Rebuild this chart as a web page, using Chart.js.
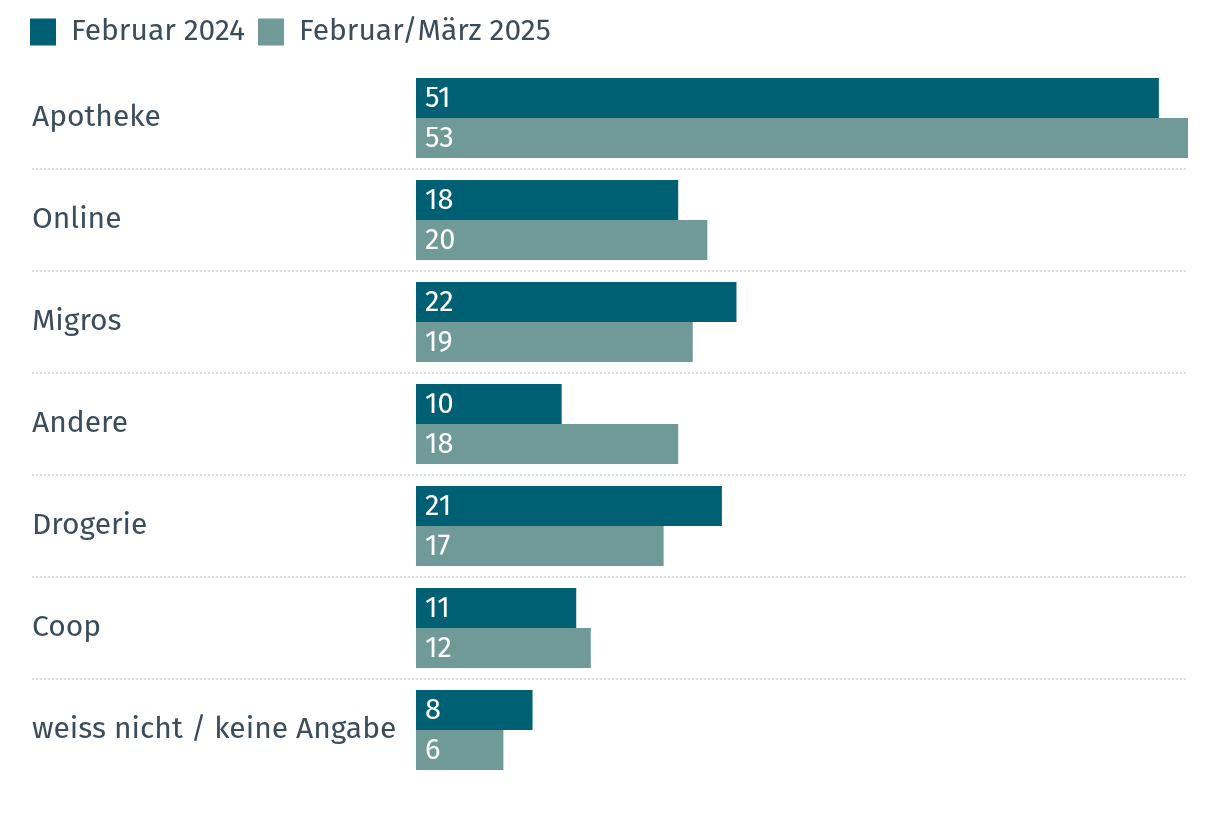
<!DOCTYPE html>
<html><head><meta charset="utf-8">
<script src="https://cdn.jsdelivr.net/npm/chart.js@4"></script>
<style>html,body{margin:0;padding:0;background:#fff}#wrap{width:1220px;height:820px;position:relative}</style>
</head><body><div id="wrap"><canvas id="c"></canvas></div>
<script>
const categories = ['Apotheke','Online','Migros','Andere','Drogerie','Coop','weiss nicht / keine Angabe'];
const values2024 = [51,18,22,10,21,11,8];
const values2025 = [53,20,19,18,17,12,6];
const seriesNames = ['Februar 2024','Februar/März 2025'];
const axisMax = 53;

const FONT = "'Fira Sans','Noto Sans','Open Sans',sans-serif";
const TEXT = '#3b4d5c';
const C1 = '#006073';
const C2 = '#6f9a98';

const separators = {
  id: 'separators',
  beforeDatasetsDraw(chart) {
    const y = chart.scales.y, ctx = chart.ctx, a = chart.chartArea;
    ctx.save();
    ctx.strokeStyle = '#dedede';
    ctx.lineWidth = 2;
    ctx.setLineDash([2, 2]);
    for (let i = 1; i < categories.length; i++) {
      const py = Math.round((y.getPixelForValue(i - 1) + y.getPixelForValue(i)) / 2);
      ctx.beginPath();
      ctx.moveTo(32, py);
      ctx.lineTo(a.right, py);
      ctx.stroke();
    }
    ctx.restore();
  }
};
const barLabels = {
  id: 'barLabels',
  afterDatasetsDraw(chart) {
    const ctx = chart.ctx;
    ctx.save();
    ctx.fillStyle = '#ffffff';
    ctx.font = '29px ' + FONT;
    ctx.textBaseline = 'middle';
    ctx.textAlign = 'left';
    chart.data.datasets.forEach((ds, di) => {
      chart.getDatasetMeta(di).data.forEach((el, i) => {
        ctx.fillText(String(ds.data[i]), el.base + 9, el.y + 1);
      });
    });
    ctx.restore();
  }
};
const legendShift = {
  id: 'legendShift',
  afterLayout(chart) { chart.legend.left -= 15; chart.legend.right -= 15; }
};

new Chart(document.getElementById('c'), {
  type: 'bar',
  data: {
    labels: categories,
    datasets: [
      { label: seriesNames[0], data: values2024, backgroundColor: C1, barPercentage: 1, categoryPercentage: 80/102 },
      { label: seriesNames[1], data: values2025, backgroundColor: C2, barPercentage: 1, categoryPercentage: 80/102 }
    ]
  },
  options: {
    indexAxis: 'y',
    responsive: true,
    maintainAspectRatio: false,
    animation: false,
    devicePixelRatio: 1,
    layout: { padding: { left: 32, right: 32, top: 4, bottom: 39 } },
    plugins: {
      legend: {
        position: 'top', align: 'start',
        labels: { boxWidth: 26, boxHeight: 27, padding: 13, color: TEXT, font: { family: FONT, size: 30 } }
      },
      tooltip: { enabled: false }
    },
    scales: {
      x: {
        position: 'top', min: 0, max: axisMax,
        grid: { display: false }, border: { display: false },
        ticks: { display: false },
        afterFit(s) { s.height = 10; }
      },
      y: {
        grid: { display: false }, border: { display: false },
        ticks: { crossAlign: 'far', color: TEXT, font: { family: FONT, size: 30 } },
        afterFit(s) { s.width = 384; }
      }
    }
  },
  plugins: [separators, barLabels, legendShift]
});
</script></body></html>
